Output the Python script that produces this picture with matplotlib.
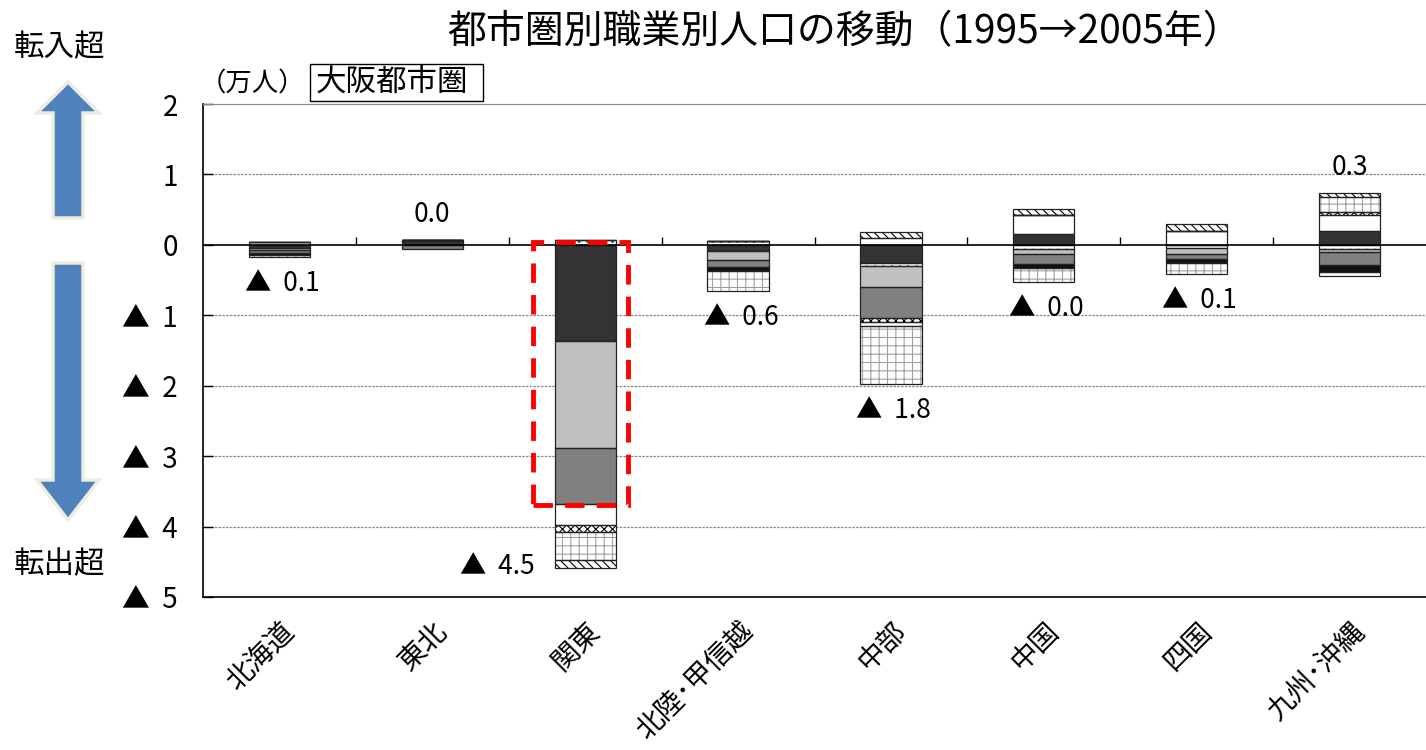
import numpy as np
import matplotlib
matplotlib.use("Agg")
import matplotlib.pyplot as plt
from matplotlib.patches import FancyArrow, Rectangle

plt.rcParams['font.family'] = ['Noto Sans CJK JP', 'DejaVu Sans']
plt.rcParams['hatch.linewidth'] = 0.8

NUM_FONT = ['Noto Sans CJK JP', 'DejaVu Sans']

# 地域ブロック
regions = ["北海道", "東北", "関東", "北陸･甲信越", "中部", "中国", "四国", "九州･沖縄"]

# 職業別の転入超(+)・転出超(-)（万人）
occ_a = [-0.05, 0.07, -1.37, -0.085, -0.26, 0.15, 0.0, 0.19]
occ_b = [0.04, 0.0, 0.07, 0.06, -0.035, -0.06, -0.04, -0.06]
occ_c = [-0.03, 0.0, -1.52, -0.135, -0.31, -0.065, -0.09, -0.035]
occ_d = [-0.04, -0.06, -0.79, -0.10, -0.43, -0.15, -0.07, -0.19]
occ_e = [-0.03, 0.0, 0.0, -0.057, 0.0, -0.06, -0.06, -0.095]
occ_f = [0.0, 0.0, -0.30, 0.0, 0.095, 0.275, 0.20, 0.24]
occ_g = [0.0, 0.0, -0.09, 0.0, -0.055, 0.0, 0.0, 0.035]
occ_h = [0.0, 0.0, 0.0, 0.0, -0.06, 0.0, 0.0, -0.06]
occ_i = [-0.02, 0.0, -0.40, -0.284, -0.83, -0.19, -0.15, 0.22]
occ_j = [0.0, 0.0, -0.12, 0.0, 0.085, 0.085, 0.095, 0.055]

series = [occ_a, occ_b, occ_c, occ_d, occ_e, occ_f, occ_g, occ_h, occ_i, occ_j]

# 塗り色・ハッチ・ハッチ色
styles = [
    ("#333333", None, "#333333"),
    ("white", "..", "#555555"),
    ("#c0c0c0", None, "#c0c0c0"),
    ("#808080", None, "#808080"),
    ("#111111", None, "#111111"),
    ("white", None, "white"),
    ("white", "xxxx", "black"),
    ("white", "--", "black"),
    ("white", "++", "#a0a0a0"),
    ("white", "\\\\\\\\", "black"),
]

W, H = 1426, 750
fig = plt.figure(figsize=(W / 100, H / 100), dpi=100)
ax = fig.add_axes([203 / W, 1 - 597 / H, (W - 203) / W, (597 - 104) / H])

x = np.arange(len(regions))
bar_w = 0.40
pos_base = np.zeros(len(regions))
neg_base = np.zeros(len(regions))
seg_bottoms = []

for vals, (fc, hatch, hc) in zip(series, styles):
    v = np.array(vals, dtype=float)
    bottom = np.where(v >= 0, pos_base, neg_base)
    ax.bar(x, v, bar_w, bottom=bottom, color=fc, hatch=hatch,
           edgecolor=hc, linewidth=0, zorder=3)
    ax.bar(x, v, bar_w, bottom=bottom, fill=False,
           edgecolor="#222222", linewidth=0.9, zorder=4)
    pos_base = pos_base + np.where(v >= 0, v, 0)
    neg_base = neg_base + np.where(v < 0, v, 0)
    seg_bottoms.append(neg_base.copy())

net = pos_base + neg_base

# 合計値ラベル
label_shift = {2: (-63, 1)}
for i, total in enumerate(net):
    if total >= 0:
        ax.annotate(f"{total:.1f}", (x[i], pos_base[i]), xytext=(0, 18),
                    textcoords="offset points", ha="center", va="center",
                    fontsize=19, family=NUM_FONT, zorder=6)
    else:
        dx, dy = label_shift.get(i, (2, -19))
        ax.annotate(f"▲  {abs(total):.1f}", (x[i], neg_base[i]), xytext=(dx, dy),
                    textcoords="offset points", ha="center", va="center",
                    fontsize=19, family=NUM_FONT, zorder=6)

# 関東の赤枠（専門〜販売）
k = 2
box_top = 0.04
box_bottom = seg_bottoms[3][k] - 0.02
ax.add_patch(Rectangle((x[k] - 0.34, box_bottom), 0.62, box_top - box_bottom,
                       fill=False, edgecolor="red", linewidth=3.5,
                       linestyle=(0, (4, 2.5)), zorder=7))

ax.set_xlim(-0.5, len(regions) - 0.5)
ax.set_ylim(-5, 2)

yt = [2, 1, 0, -1, -2, -3, -4, -5]
ax.set_yticks(yt)
ax.set_yticklabels([f"{v}" if v >= 0 else f"▲  {-v}" for v in yt],
                   fontsize=20, family=NUM_FONT)
ax.tick_params(axis="y", direction="in", length=7, width=1, pad=18)

ax.set_xticks(x)
ax.set_xticklabels(regions, rotation=45, ha="right", va="top",
                   rotation_mode="anchor", fontsize=20)
ax.tick_params(axis="x", length=0, pad=14)

for g in [1, -1, -2, -3, -4]:
    ax.axhline(g, color="#888888", linewidth=0.9, linestyle=(0, (2, 1)), zorder=1)
ax.axhline(0, color="black", linewidth=1.2, zorder=5)
ax.vlines(np.arange(0.5, len(regions) - 0.5), 0, 0.11, color="black",
          linewidth=1, zorder=5)

ax.spines["right"].set_visible(False)
ax.spines["top"].set_color("#888888")
ax.spines["top"].set_linewidth(0.9)
ax.spines["left"].set_linewidth(1.2)
ax.spines["bottom"].set_linewidth(1.2)

# タイトル・注記
fig.text(845 / W, 1 - 32 / H, "都市圏別職業別人口の移動（1995→2005年）",
         ha="center", va="center", fontsize=28)
fig.text(252 / W, 1 - 84 / H, "（万人）", ha="center", va="center", fontsize=19)
fig.patches.append(Rectangle((310 / W, 1 - 101 / H), 173 / W, 37 / H,
                             transform=fig.transFigure, fill=False,
                             edgecolor="black", linewidth=1))
fig.text(316 / W, 1 - 82 / H, "大阪都市圏", ha="left", va="center", fontsize=22)
fig.text(60 / W, 1 - 48 / H, "転入超", ha="center", va="center", fontsize=22)
fig.text(60 / W, 1 - 565 / H, "転出超", ha="center", va="center", fontsize=22)

# 転入・転出の矢印
arrow_kw = dict(width=30 / W, head_width=62 / W, length_includes_head=True,
                facecolor="#4f81bd", edgecolor="#eeece1", linewidth=2.5,
                transform=fig.transFigure)
fig.patches.append(FancyArrow(68 / W, 1 - 218 / H, 0, (218 - 82) / H,
                              head_length=31 / H, **arrow_kw))
fig.patches.append(FancyArrow(68 / W, 1 - 263 / H, 0, -(520 - 263) / H,
                              head_length=40 / H, **arrow_kw))

fig.savefig("out.png", dpi=100)
